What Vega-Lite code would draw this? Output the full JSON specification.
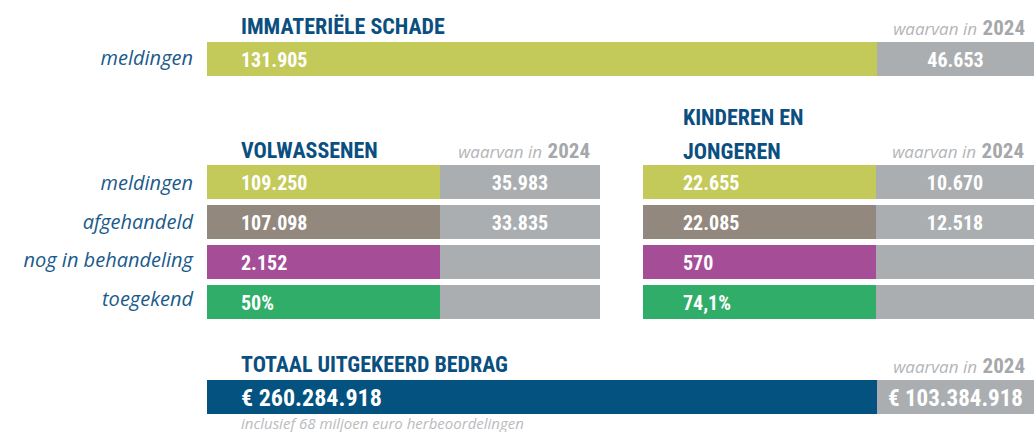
{
  "$schema": "https://vega.github.io/schema/vega-lite/v6.json",
  "padding": {"left": 0, "right": 0, "top": 16, "bottom": 0},
  "autosize": {"type": "pad"},
  "background": "white",
  "config": {"view": {"stroke": null}},
  "datasets": {
    "immaterieel": [
      {"onderdeel": "totaal", "meting": "meldingen", "waarde": 131905, "label": "131.905"},
      {"onderdeel": "2024", "meting": "meldingen", "waarde": 46653, "label": "46.653"}
    ],
    "volwassenen": [
      {"onderdeel": "totaal", "meting": "meldingen", "waarde": 109250, "label": "109.250"},
      {"onderdeel": "totaal", "meting": "afgehandeld", "waarde": 107098, "label": "107.098"},
      {"onderdeel": "totaal", "meting": "nog in behandeling", "waarde": 2152, "label": "2.152"},
      {"onderdeel": "totaal", "meting": "toegekend", "waarde": 50, "label": "50%"},
      {"onderdeel": "2024", "meting": "meldingen", "waarde": 35983, "label": "35.983"},
      {"onderdeel": "2024", "meting": "afgehandeld", "waarde": 33835, "label": "33.835"},
      {"onderdeel": "2024", "meting": "nog in behandeling", "waarde": null, "label": ""},
      {"onderdeel": "2024", "meting": "toegekend", "waarde": null, "label": ""}
    ],
    "kinderen": [
      {"onderdeel": "totaal", "meting": "meldingen", "waarde": 22655, "label": "22.655"},
      {"onderdeel": "totaal", "meting": "afgehandeld", "waarde": 22085, "label": "22.085"},
      {"onderdeel": "totaal", "meting": "nog in behandeling", "waarde": 570, "label": "570"},
      {"onderdeel": "totaal", "meting": "toegekend", "waarde": 74.1, "label": "74,1%"},
      {"onderdeel": "2024", "meting": "meldingen", "waarde": 10670, "label": "10.670"},
      {"onderdeel": "2024", "meting": "afgehandeld", "waarde": 12518, "label": "12.518"},
      {"onderdeel": "2024", "meting": "nog in behandeling", "waarde": null, "label": ""},
      {"onderdeel": "2024", "meting": "toegekend", "waarde": null, "label": ""}
    ],
    "bedrag": [
      {"onderdeel": "totaal", "meting": "totaal uitgekeerd bedrag", "waarde": 260284918, "label": "€ 260.284.918"},
      {"onderdeel": "2024", "meting": "totaal uitgekeerd bedrag", "waarde": 103384918, "label": "€ 103.384.918"}
    ]
  },
  "spacing": 31,
  "resolve": {"scale": {"y": "independent", "color": "independent"}},
  "vconcat": [
    {
      "hconcat": [
        {
          "width": 207, "height": 34,
          "data": {"name": "immaterieel"},
          "transform": [{"filter": "datum.onderdeel === 'totaal'"}],
          "mark": {"type": "text", "align": "right", "baseline": "middle", "dx": -14, "font": "Open Sans", "fontStyle": "italic", "fontSize": 20, "color": "#1a5a8b"},
          "encoding": {
            "y": {"field": "meting", "type": "nominal", "axis": null, "scale": {"domain": ["meldingen"], "paddingInner": 0.15, "paddingOuter": 0}},
            "x": {"value": "width"},
            "text": {"field": "meting"}
          }
        },
        {
          "width": 670, "height": 34,
          "data": {"name": "immaterieel"},
          "transform": [{"filter": "datum.onderdeel === 'totaal'"}],
          "encoding": {
            "y": {"field": "meting", "type": "nominal", "axis": null, "scale": {"domain": ["meldingen"], "paddingInner": 0.15, "paddingOuter": 0}}
          },
          "layer": [
            {"mark": {"type": "rect", "color": "#c4ca59"}, "encoding": {"x": {"value": 0}, "x2": {"value": "width"}}},
            {"mark": {"type": "text", "align": "left", "baseline": "middle", "dx": 34, "dy": 2, "font": "Roboto Condensed, Roboto, sans-serif", "fontWeight": "bold", "fontSize": 20, "color": "white"}, "encoding": {"x": {"value": 0}, "text": {"field": "label"}}},
            {"data": {"values": [{"kop": "IMMATERIËLE SCHADE"}]}, "mark": {"type": "text", "align": "left", "baseline": "alphabetic", "dx": 34, "dy": -8, "font": "Roboto Condensed, Roboto, sans-serif", "fontWeight": "bold", "fontSize": 22, "color": "#0b4f80"}, "encoding": {"x": {"value": 0}, "y": {"value": 0}, "text": {"field": "kop"}}}
          ]
        },
        {
          "width": 157, "height": 34,
          "data": {"name": "immaterieel"},
          "transform": [{"filter": "datum.onderdeel === '2024'"}],
          "encoding": {
            "y": {"field": "meting", "type": "nominal", "axis": null, "scale": {"domain": ["meldingen"], "paddingInner": 0.15, "paddingOuter": 0}}
          },
          "layer": [
            {"mark": {"type": "rect", "color": "#abaeb1"}, "encoding": {"x": {"value": 0}, "x2": {"value": "width"}}},
            {"mark": {"type": "text", "align": "center", "baseline": "middle", "dy": 2, "font": "Roboto Condensed, Roboto, sans-serif", "fontWeight": "bold", "fontSize": 20, "color": "white"}, "encoding": {"text": {"field": "label"}}},
            {"data": {"values": [{"kop": "2024"}]}, "mark": {"type": "text", "align": "right", "baseline": "alphabetic", "dx": -9, "dy": -7, "font": "Roboto Condensed, Roboto, sans-serif", "fontWeight": "bold", "fontSize": 21, "color": "#a5a8ab"}, "encoding": {"x": {"value": "width"}, "y": {"value": 0}, "text": {"field": "kop"}}},
            {"data": {"values": [{"kop": "waarvan in"}]}, "mark": {"type": "text", "align": "right", "baseline": "alphabetic", "dx": -57, "dy": -7, "font": "Open Sans", "fontStyle": "italic", "fontSize": 17, "color": "#b3b5b8"}, "encoding": {"x": {"value": "width"}, "y": {"value": 0}, "text": {"field": "kop"}}}
          ]
        }
      ],
      "spacing": 0,
      "bounds": "flush",
      "resolve": {"scale": {"y": "independent", "color": "independent"}}
    },
    {
      "hconcat": [
        {
          "width": 207, "height": 154,
          "data": {"name": "volwassenen"},
          "transform": [{"filter": "datum.onderdeel === 'totaal'"}],
          "mark": {"type": "text", "align": "right", "baseline": "middle", "dx": -14, "font": "Open Sans", "fontStyle": "italic", "fontSize": 20, "color": "#1a5a8b"},
          "encoding": {
            "y": {"field": "meting", "type": "nominal", "axis": null, "scale": {"domain": ["meldingen", "afgehandeld", "nog in behandeling", "toegekend"], "paddingInner": 0.15, "paddingOuter": 0}},
            "x": {"value": "width"},
            "text": {"field": "meting"}
          }
        },
        {
          "width": 233, "height": 154,
          "data": {"name": "volwassenen"},
          "transform": [{"filter": "datum.onderdeel === 'totaal'"}],
          "encoding": {
            "y": {"field": "meting", "type": "nominal", "axis": null, "scale": {"domain": ["meldingen", "afgehandeld", "nog in behandeling", "toegekend"], "paddingInner": 0.15, "paddingOuter": 0}}
          },
          "layer": [
            {"mark": {"type": "rect"}, "encoding": {"x": {"value": 0}, "x2": {"value": "width"}, "color": {"field": "meting", "type": "nominal", "legend": null, "scale": {"domain": ["meldingen", "afgehandeld", "nog in behandeling", "toegekend"], "range": ["#c4ca59", "#93887d", "#a54e97", "#2fad69"]}}}},
            {"mark": {"type": "text", "align": "left", "baseline": "middle", "dx": 34, "dy": 2, "font": "Roboto Condensed, Roboto, sans-serif", "fontWeight": "bold", "fontSize": 20, "color": "white"}, "encoding": {"x": {"value": 0}, "text": {"field": "label"}}},
            {"data": {"values": [{"kop": "VOLWASSENEN"}]}, "mark": {"type": "text", "align": "left", "baseline": "alphabetic", "dx": 34, "dy": -7, "font": "Roboto Condensed, Roboto, sans-serif", "fontWeight": "bold", "fontSize": 22, "color": "#0b4f80"}, "encoding": {"x": {"value": 0}, "y": {"value": 0}, "text": {"field": "kop"}}}
          ]
        },
        {
          "width": 160, "height": 154,
          "data": {"name": "volwassenen"},
          "transform": [{"filter": "datum.onderdeel === '2024'"}],
          "encoding": {
            "y": {"field": "meting", "type": "nominal", "axis": null, "scale": {"domain": ["meldingen", "afgehandeld", "nog in behandeling", "toegekend"], "paddingInner": 0.15, "paddingOuter": 0}}
          },
          "layer": [
            {"mark": {"type": "rect", "color": "#abaeb1"}, "encoding": {"x": {"value": 0}, "x2": {"value": "width"}}},
            {"mark": {"type": "text", "align": "center", "baseline": "middle", "dy": 2, "font": "Roboto Condensed, Roboto, sans-serif", "fontWeight": "bold", "fontSize": 20, "color": "white"}, "encoding": {"text": {"field": "label"}}},
            {"data": {"values": [{"kop": "2024"}]}, "mark": {"type": "text", "align": "right", "baseline": "alphabetic", "dx": -10, "dy": -7, "font": "Roboto Condensed, Roboto, sans-serif", "fontWeight": "bold", "fontSize": 21, "color": "#a5a8ab"}, "encoding": {"x": {"value": "width"}, "y": {"value": 0}, "text": {"field": "kop"}}},
            {"data": {"values": [{"kop": "waarvan in"}]}, "mark": {"type": "text", "align": "right", "baseline": "alphabetic", "dx": -58, "dy": -7, "font": "Open Sans", "fontStyle": "italic", "fontSize": 17, "color": "#b3b5b8"}, "encoding": {"x": {"value": "width"}, "y": {"value": 0}, "text": {"field": "kop"}}}
          ]
        },
        {
          "width": 43, "height": 158,
          "data": {"name": "volwassenen"},
          "transform": [{"filter": "false"}],
          "mark": {"type": "text"},
          "encoding": {"text": {"field": "label"}}
        },
        {
          "width": 233, "height": 154,
          "data": {"name": "kinderen"},
          "transform": [{"filter": "datum.onderdeel === 'totaal'"}],
          "encoding": {
            "y": {"field": "meting", "type": "nominal", "axis": null, "scale": {"domain": ["meldingen", "afgehandeld", "nog in behandeling", "toegekend"], "paddingInner": 0.15, "paddingOuter": 0}}
          },
          "layer": [
            {"mark": {"type": "rect"}, "encoding": {"x": {"value": 0}, "x2": {"value": "width"}, "color": {"field": "meting", "type": "nominal", "legend": null, "scale": {"domain": ["meldingen", "afgehandeld", "nog in behandeling", "toegekend"], "range": ["#c4ca59", "#93887d", "#a54e97", "#2fad69"]}}}},
            {"mark": {"type": "text", "align": "left", "baseline": "middle", "dx": 40, "dy": 2, "font": "Roboto Condensed, Roboto, sans-serif", "fontWeight": "bold", "fontSize": 20, "color": "white"}, "encoding": {"x": {"value": 0}, "text": {"field": "label"}}},
            {"data": {"values": [{"kop": "KINDEREN EN\nJONGEREN"}]}, "mark": {"type": "text", "align": "left", "baseline": "alphabetic", "lineBreak": "\n", "lineHeight": 34, "dx": 40, "dy": -40, "font": "Roboto Condensed, Roboto, sans-serif", "fontWeight": "bold", "fontSize": 22, "color": "#0b4f80"}, "encoding": {"x": {"value": 0}, "y": {"value": 0}, "text": {"field": "kop"}}}
          ]
        },
        {
          "width": 158, "height": 154,
          "data": {"name": "kinderen"},
          "transform": [{"filter": "datum.onderdeel === '2024'"}],
          "encoding": {
            "y": {"field": "meting", "type": "nominal", "axis": null, "scale": {"domain": ["meldingen", "afgehandeld", "nog in behandeling", "toegekend"], "paddingInner": 0.15, "paddingOuter": 0}}
          },
          "layer": [
            {"mark": {"type": "rect", "color": "#abaeb1"}, "encoding": {"x": {"value": 0}, "x2": {"value": "width"}}},
            {"mark": {"type": "text", "align": "center", "baseline": "middle", "dy": 2, "font": "Roboto Condensed, Roboto, sans-serif", "fontWeight": "bold", "fontSize": 20, "color": "white"}, "encoding": {"text": {"field": "label"}}},
            {"data": {"values": [{"kop": "2024"}]}, "mark": {"type": "text", "align": "right", "baseline": "alphabetic", "dx": -10, "dy": -7, "font": "Roboto Condensed, Roboto, sans-serif", "fontWeight": "bold", "fontSize": 21, "color": "#a5a8ab"}, "encoding": {"x": {"value": "width"}, "y": {"value": 0}, "text": {"field": "kop"}}},
            {"data": {"values": [{"kop": "waarvan in"}]}, "mark": {"type": "text", "align": "right", "baseline": "alphabetic", "dx": -58, "dy": -7, "font": "Open Sans", "fontStyle": "italic", "fontSize": 17, "color": "#b3b5b8"}, "encoding": {"x": {"value": "width"}, "y": {"value": 0}, "text": {"field": "kop"}}}
          ]
        }
      ],
      "spacing": 0,
      "bounds": "flush",
      "resolve": {"scale": {"y": "independent", "color": "independent"}}
    },
    {
      "hconcat": [
        {
          "width": 207, "height": 34,
          "data": {"name": "bedrag"},
          "transform": [{"filter": "false"}],
          "mark": {"type": "text"},
          "encoding": {"text": {"field": "label"}}
        },
        {
          "width": 670, "height": 34,
          "data": {"name": "bedrag"},
          "transform": [{"filter": "datum.onderdeel === 'totaal'"}],
          "encoding": {
            "y": {"field": "meting", "type": "nominal", "axis": null, "scale": {"domain": ["totaal uitgekeerd bedrag"], "paddingInner": 0.15, "paddingOuter": 0}}
          },
          "layer": [
            {"mark": {"type": "rect", "color": "#03527f"}, "encoding": {"x": {"value": 0}, "x2": {"value": "width"}}},
            {"mark": {"type": "text", "align": "left", "baseline": "middle", "dx": 34, "dy": 2, "font": "Roboto Condensed, Roboto, sans-serif", "fontWeight": "bold", "fontSize": 24, "color": "white"}, "encoding": {"x": {"value": 0}, "text": {"field": "label"}}},
            {"data": {"values": [{"kop": "TOTAAL UITGEKEERD BEDRAG"}]}, "mark": {"type": "text", "align": "left", "baseline": "alphabetic", "dx": 34, "dy": -8, "font": "Roboto Condensed, Roboto, sans-serif", "fontWeight": "bold", "fontSize": 22, "color": "#0b4f80"}, "encoding": {"x": {"value": 0}, "y": {"value": 0}, "text": {"field": "kop"}}},
            {"data": {"values": [{"noot": "inclusief 68 miljoen euro herbeoordelingen"}]}, "mark": {"type": "text", "align": "left", "baseline": "alphabetic", "dx": 34, "dy": 15, "font": "Open Sans", "fontStyle": "italic", "fontSize": 15, "color": "#b9bbbe"}, "encoding": {"x": {"value": 0}, "y": {"value": "height"}, "text": {"field": "noot"}}}
          ]
        },
        {
          "width": 157, "height": 34,
          "data": {"name": "bedrag"},
          "transform": [{"filter": "datum.onderdeel === '2024'"}],
          "encoding": {
            "y": {"field": "meting", "type": "nominal", "axis": null, "scale": {"domain": ["totaal uitgekeerd bedrag"], "paddingInner": 0.15, "paddingOuter": 0}}
          },
          "layer": [
            {"mark": {"type": "rect", "color": "#abaeb1"}, "encoding": {"x": {"value": 0}, "x2": {"value": "width"}}},
            {"mark": {"type": "text", "align": "center", "baseline": "middle", "dy": 2, "font": "Roboto Condensed, Roboto, sans-serif", "fontWeight": "bold", "fontSize": 23, "color": "white"}, "encoding": {"text": {"field": "label"}}},
            {"data": {"values": [{"kop": "2024"}]}, "mark": {"type": "text", "align": "right", "baseline": "alphabetic", "dx": -9, "dy": -7, "font": "Roboto Condensed, Roboto, sans-serif", "fontWeight": "bold", "fontSize": 21, "color": "#a5a8ab"}, "encoding": {"x": {"value": "width"}, "y": {"value": 0}, "text": {"field": "kop"}}},
            {"data": {"values": [{"kop": "waarvan in"}]}, "mark": {"type": "text", "align": "right", "baseline": "alphabetic", "dx": -57, "dy": -7, "font": "Open Sans", "fontStyle": "italic", "fontSize": 17, "color": "#b3b5b8"}, "encoding": {"x": {"value": "width"}, "y": {"value": 0}, "text": {"field": "kop"}}}
          ]
        }
      ],
      "spacing": 0,
      "bounds": "flush",
      "resolve": {"scale": {"y": "independent", "color": "independent"}}
    }
  ]
}
